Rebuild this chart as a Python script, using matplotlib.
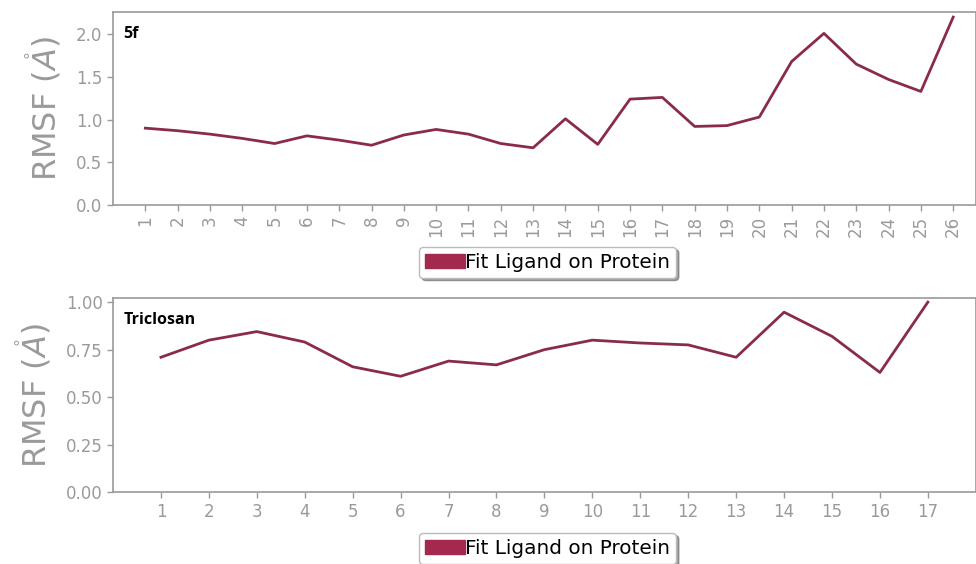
import matplotlib.pyplot as plt
from matplotlib.patches import Patch

# RMSF per ligand atom
atoms_5f = list(range(1, 27))
rmsf_5f = [0.90, 0.87, 0.83, 0.78, 0.72, 0.81, 0.76, 0.70, 0.82, 0.885,
           0.83, 0.72, 0.67, 1.01, 0.71, 1.24, 1.26, 0.92, 0.93, 1.03,
           1.68, 2.01, 1.65, 1.47, 1.33, 2.20]

atoms_tcs = list(range(1, 18))
rmsf_tcs = [0.71, 0.80, 0.845, 0.79, 0.66, 0.61, 0.69, 0.67, 0.75, 0.80,
            0.785, 0.775, 0.71, 0.947, 0.82, 0.63, 1.00]

line_color = "#8A2B4C"
patch_color = "#A3294F"
grey = "#9a9a9a"
legend_label = "Fit Ligand on Protein"

fig = plt.figure(figsize=(9.76, 5.64), dpi=100)
ax1 = fig.add_axes([0.1158, 0.6365, 0.884, 0.3422])
ax2 = fig.add_axes([0.1158, 0.1271, 0.884, 0.344])


def style(ax, label):
    for s in ax.spines.values():
        s.set_color(grey)
        s.set_linewidth(1.2)
    ax.tick_params(colors=grey, labelcolor=grey, labelsize=12, length=4, width=1)
    ax.set_ylabel(r"RMSF ($\mathring{A}$)", color=grey, fontsize=23, labelpad=9)
    ax.text(0.012, 0.93, label, transform=ax.transAxes, fontsize=11.5,
            fontweight="bold", family="Open Sans", va="top", ha="left")


ax1.plot(atoms_5f, rmsf_5f, color=line_color, lw=2)
ax1.set_xlim(0, 26.7)
ax1.set_ylim(0, 2.26)
ax1.set_xticks(atoms_5f)
ax1.set_xticklabels([str(a) for a in atoms_5f], rotation=90)
ax1.set_yticks([0.0, 0.5, 1.0, 1.5, 2.0])
style(ax1, "5f")

ax2.plot(atoms_tcs, rmsf_tcs, color=line_color, lw=2)
ax2.set_xlim(0, 18)
ax2.set_ylim(0, 1.02)
ax2.set_xticks(atoms_tcs)
ax2.set_yticks([0.0, 0.25, 0.5, 0.75, 1.0])
ax2.set_yticklabels(["0.00", "0.25", "0.50", "0.75", "1.00"])
style(ax2, "Triclosan")

handle = [Patch(color=patch_color, label=legend_label)]
for ax, y in [(ax1, 0.535), (ax2, 0.028)]:
    ax.legend(handles=handle, loc="center", bbox_to_anchor=(0.561, y),
              bbox_transform=fig.transFigure, fontsize=14.4, shadow=True,
              fancybox=True, handlelength=2, handletextpad=0.0,
              borderpad=0.3, borderaxespad=0, framealpha=1, edgecolor="#bbbbbb")

fig.savefig("out.png", dpi=100)
